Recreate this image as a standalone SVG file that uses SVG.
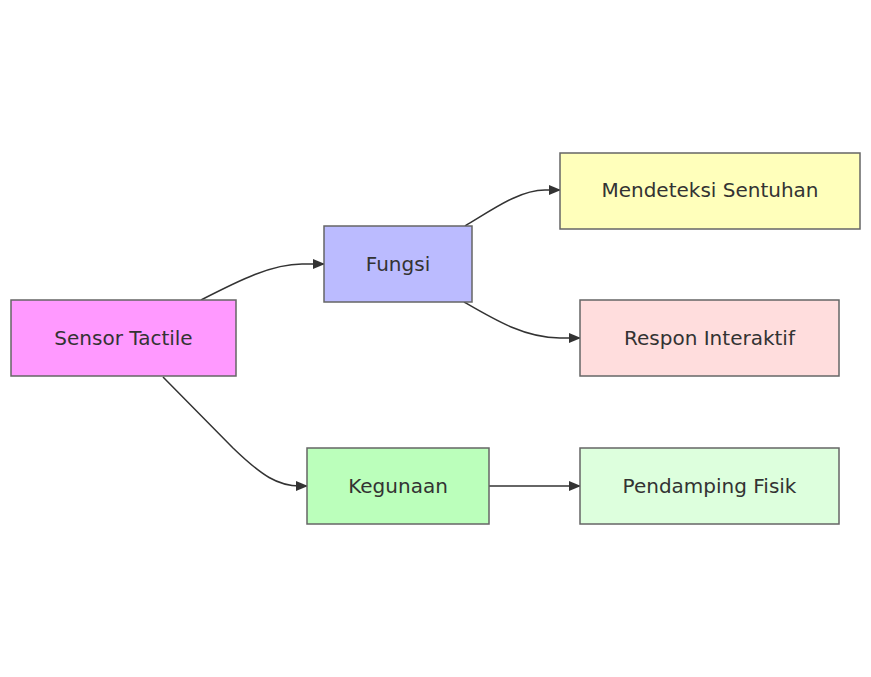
<svg xmlns="http://www.w3.org/2000/svg" width="871" height="677" viewBox="0 0 871 677">
<defs>
<marker id="arrow" viewBox="0 0 12 10" refX="11" refY="5" markerWidth="12" markerHeight="10" markerUnits="userSpaceOnUse" orient="auto">
<path d="M0,0 L12,5 L0,10 z" fill="#333"/>
</marker>
<style>
.node rect{stroke:#666;stroke-width:1.5}
.node text{font-family:"DejaVu Sans",sans-serif;font-size:20px;fill:#333;text-anchor:middle;dominant-baseline:central}
.edge{fill:none;stroke:#333;stroke-width:1.5;marker-end:url(#arrow)}
</style>
</defs>
<rect width="871" height="677" fill="#fff"/>
<g id="connectors">
<path class="edge" d="M201,300 C240,280 272,264 302,264 L324,264"/>
<path class="edge" d="M163,377 L233,448 C262,476 278,486 300,486 L307,486"/>
<path class="edge" d="M465,226 C495,208 520,190 545,190 L560,190"/>
<path class="edge" d="M464,302 C495,320 525,338 560,338 L580,338"/>
<path class="edge" d="M489,486 L580,486"/>
</g>
<g id="sensor" class="node"><rect x="11" y="300" width="225" height="76" fill="#ff99ff"/><text x="123.5" y="338">Sensor Tactile</text></g>
<g id="fungsi" class="node"><rect x="324" y="226" width="148" height="76" fill="#bbbbff"/><text x="398" y="264">Fungsi</text></g>
<g id="kegunaan" class="node"><rect x="307" y="448" width="182" height="76" fill="#bbffbb"/><text x="398" y="486">Kegunaan</text></g>
<g id="mendeteksi" class="node"><rect x="560" y="153" width="300" height="76" fill="#ffffbb"/><text x="710" y="190">Mendeteksi Sentuhan</text></g>
<g id="respon" class="node"><rect x="580" y="300" width="259" height="76" fill="#ffdddd"/><text x="709.5" y="338">Respon Interaktif</text></g>
<g id="pendamping" class="node"><rect x="580" y="448" width="259" height="76" fill="#ddffdd"/><text x="709.5" y="486">Pendamping Fisik</text></g>
</svg>
